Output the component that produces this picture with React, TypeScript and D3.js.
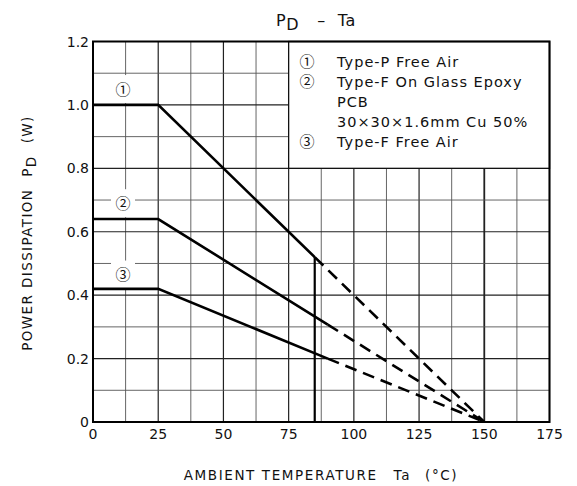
import React from 'react';
import * as d3 from 'd3';

// derating curves (Ta in degC, Pd in W)
const solid1 = [[0, 1.0], [25, 1.0], [85, 0.52]];
const dashed1 = [[85, 0.52], [150, 0]];
const solid2 = [[0, 0.64], [25, 0.64], [90, 0.307]];
const dashed2 = [[90, 0.307], [150, 0]];
const solid3 = [[0, 0.42], [25, 0.42], [90, 0.2]];
const dashed3 = [[90, 0.2], [150, 0]];
const limitTemp = 85;
const limitValue = 0.52;

const curveMarks = ['①', '②', '③'];
const markPositions = [[11.5, 1.05], [11.5, 0.69], [11.5, 0.465]];

const xTicks = [0, 25, 50, 75, 100, 125, 150, 175];
const yTicks = [0, 0.2, 0.4, 0.6, 0.8, 1.0, 1.2];
const yTickLabels = ['0', '0.2', '0.4', '0.6', '0.8', '1.0', '1.2'];

const legendMarks = ['①', '②', '', '', '③'];
const legendLines = [
  'Type-P Free Air',
  'Type-F On Glass Epoxy',
  'PCB',
  '30×30×1.6mm Cu 50%',
  'Type-F Free Air',
];

const FONT = '"DejaVu Sans", "Noto Sans CJK JP", sans-serif';
const MARK_FONT = '"Noto Sans CJK JP", "DejaVu Sans", sans-serif';

export default function App() {
  const width = 577;
  const height = 486;
  const x = d3.scaleLinear().domain([0, 175]).range([93, 549.5]);
  const y = d3.scaleLinear().domain([0, 1.2]).range([422, 41.5]);

  const line = d3.line<number[]>().x((d) => x(d[0])).y((d) => y(d[1]));

  const vGrid = d3.range(0, 175.1, 12.5);
  const hGrid = d3.range(0, 1.21, 0.1).map((v) => Math.round(v * 10) / 10);

  const solids = [solid1, solid2, solid3];
  const dashes = [dashed1, dashed2, dashed3];

  const [x0, x1] = x.range();
  const [y0, y1] = y.range();

  return (
    <svg
      width={width}
      height={height}
      style={{ position: 'fixed', left: 0, top: 0, background: '#fff' }}
      fontFamily={FONT}
    >
      <rect x={0} y={0} width={width} height={height} fill="#fff" />

      {/* title */}
      <text x={276} y={26} fontSize={16} fill="#111" letterSpacing={0.6}>
        P<tspan dy={4}>D</tspan>
        <tspan dy={-4} dx={18}>–</tspan>
        <tspan dx={12}>Ta</tspan>
      </text>

      {/* grid */}
      <g>
        {vGrid.map((t) => {
          const major = t % 25 === 0;
          return (
            <line
              key={'v' + t}
              x1={x(t)}
              x2={x(t)}
              y1={y1}
              y2={y0}
              stroke={major ? '#222' : '#555'}
              strokeWidth={t === 150 ? 1.8 : major ? 1.2 : 0.9}
            />
          );
        })}
        {hGrid.map((v) => {
          const major = Math.round(v * 10) % 2 === 0;
          return (
            <line
              key={'h' + v}
              x1={x0}
              x2={x1}
              y1={y(v)}
              y2={y(v)}
              stroke={major ? '#222' : '#555'}
              strokeWidth={major ? 1.2 : 0.9}
            />
          );
        })}
      </g>

      {/* legend box */}
      <rect
        x={x(75)}
        y={y(1.2)}
        width={x(175) - x(75)}
        height={y(0.8) - y(1.2)}
        fill="#fff"
        stroke="#111"
        strokeWidth={1.3}
      />
      {legendLines.map((txt, i) => (
        <g key={'lg' + i} fontSize={14.5} fill="#111">
          {legendMarks[i] && (
            <text x={307} y={67 + i * 20} textAnchor="middle" fontFamily={MARK_FONT} fontSize={15}>
              {legendMarks[i]}
            </text>
          )}
          <text x={337} y={67 + i * 20} letterSpacing={1}>
            {txt}
          </text>
        </g>
      ))}

      {/* curve labels */}
      {curveMarks.map((m, i) => (
        <g key={'cm' + i}>
          <rect
            x={x(markPositions[i][0]) - 12}
            y={y(markPositions[i][1]) - 14}
            width={24}
            height={28}
            fill="#fff"
          />
          <text
            x={x(markPositions[i][0])}
            y={y(markPositions[i][1]) + 5.5}
            textAnchor="middle"
            fontFamily={MARK_FONT}
            fontSize={15}
            fill="#111"
          >
            {m}
          </text>
        </g>
      ))}

      {/* curves */}
      {solids.map((s, i) => (
        <path key={'s' + i} d={line(s) || ''} fill="none" stroke="#000" strokeWidth={2.6} />
      ))}
      {dashes.map((s, i) => (
        <path
          key={'d' + i}
          d={line(s) || ''}
          fill="none"
          stroke="#000"
          strokeWidth={2.6}
          strokeDasharray="12 7"
        />
      ))}
      <line
        x1={x(limitTemp)}
        x2={x(limitTemp)}
        y1={y(0)}
        y2={y(limitValue)}
        stroke="#000"
        strokeWidth={2.2}
      />

      {/* frame */}
      <rect x={x0} y={y1} width={x1 - x0} height={y0 - y1} fill="none" stroke="#000" strokeWidth={2} />

      {/* y ticks */}
      {yTicks.map((v, i) => (
        <text key={'yt' + i} x={89} y={y(v) + 5} textAnchor="end" fontSize={14} fill="#111">
          {yTickLabels[i]}
        </text>
      ))}
      {/* x ticks */}
      {xTicks.map((t) => (
        <text key={'xt' + t} x={x(t)} y={439} textAnchor="middle" fontSize={14} fill="#111">
          {t}
        </text>
      ))}

      {/* axis titles */}
      <text
        x={28}
        y={233}
        transform="rotate(-90 28 233)"
        textAnchor="middle"
        fontSize={13.5}
        letterSpacing={1.4}
        fill="#111"
        dominantBaseline="middle"
      >
        POWER DISSIPATION<tspan dx={12}>P</tspan>
        <tspan dy={4}>D</tspan>
        <tspan dy={-4} dx={12}>(W)</tspan>
      </text>
      <text x={321} y={480} textAnchor="middle" fontSize={13.5} letterSpacing={1.6} fill="#111">
        AMBIENT TEMPERATURE<tspan dx={16}>Ta</tspan>
        <tspan dx={14}>(°C)</tspan>
      </text>
    </svg>
  );
}
